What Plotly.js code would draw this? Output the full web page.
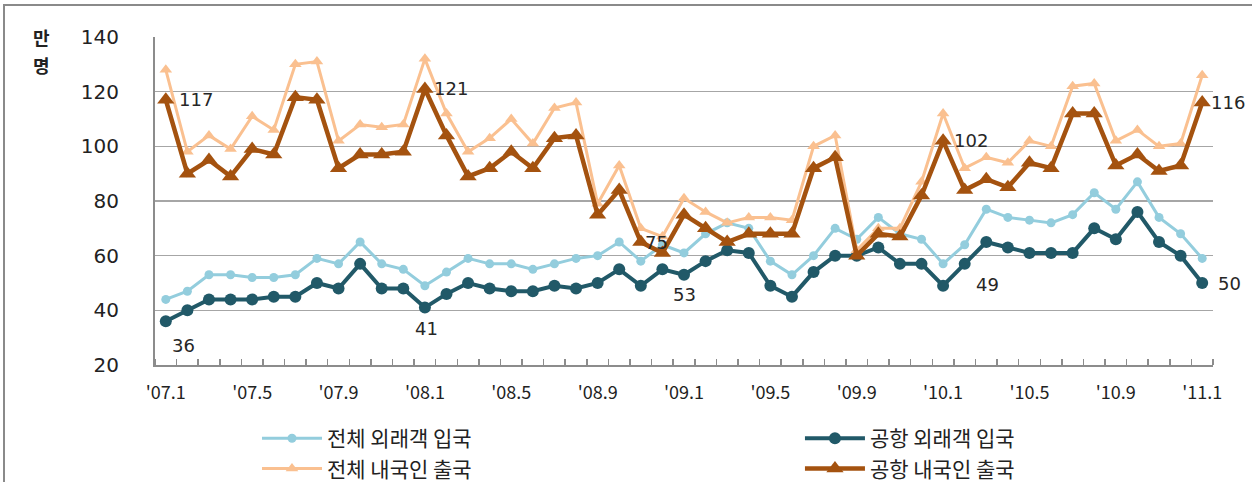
<!DOCTYPE html>
<html>
<head>
<meta charset="utf-8">
<script src="https://cdn.plot.ly/plotly-3.0.1.min.js"></script>
<style>
  html, body { margin: 0; padding: 0; background: #fff; }
  #wrap { position: relative; width: 1252px; height: 482px; }
  #chart { width: 1252px; height: 482px; }
  #frame { position: absolute; left: 3px; top: 4px; width: 1252px; height: 482px; border: 2px solid #8a8a8a; box-sizing: border-box; pointer-events: none; }
</style>
</head>
<body>
<div id="wrap"><div id="chart"></div><div id="frame"></div></div>
<script>
// month index 0 = '07.1 ... 48 = '11.1
const months = Array.from({length: 49}, (_, i) => i);
const tickPositions = [0, 4, 8, 12, 16, 20, 24, 28, 32, 36, 40, 44, 48];
const tickLabels = ["'07.1", "'07.5", "'07.9", "'08.1", "'08.5", "'08.9", "'09.1", "'09.5", "'09.9", "'10.1", "'10.5", "'10.9", "'11.1"];

const seriesNames = ["전체 외래객 입국", "공항 외래객 입국", "전체 내국인 출국", "공항 내국인 출국"];

// 전체 외래객 입국 (만 명)
const totalInbound = [44, 47, 53, 53, 52, 52, 53, 59, 57, 65, 57, 55,
                      49, 54, 59, 57, 57, 55, 57, 59, 60, 65, 58, 64,
                      61, 68, 72, 70, 58, 53, 60, 70, 66, 74, 68, 66,
                      57, 64, 77, 74, 73, 72, 75, 83, 77, 87, 74, 68,
                      59];
// 공항 외래객 입국
const airportInbound = [36, 40, 44, 44, 44, 45, 45, 50, 48, 57, 48, 48,
                        41, 46, 50, 48, 47, 47, 49, 48, 50, 55, 49, 55,
                        53, 58, 62, 61, 49, 45, 54, 60, 60, 63, 57, 57,
                        49, 57, 65, 63, 61, 61, 61, 70, 66, 76, 65, 60,
                        50];
// 전체 내국인 출국
const totalOutbound = [128, 98, 104, 99, 111, 106, 130, 131, 102, 108, 107, 108,
                       132, 112, 98, 103, 110, 101, 114, 116, 79, 93, 70, 67,
                       81, 76, 72, 74, 74, 73, 100, 104, 62, 70, 70, 87,
                       112, 92, 96, 94, 102, 100, 122, 123, 102, 106, 100, 101,
                       126];
// 공항 내국인 출국
const airportOutbound = [117, 90, 95, 89, 99, 97, 118, 117, 92, 97, 97, 98,
                         121, 104, 89, 92, 98, 92, 103, 104, 75, 84, 65, 61,
                         75, 70, 65, 68, 68, 68, 92, 96, 60, 68, 67, 82,
                         102, 84, 88, 85, 94, 92, 112, 112, 93, 97, 91, 93,
                         116];

// data labels: which points are labelled
const outboundLabelIdx = [0, 12, 24, 36, 48];
const inboundLabelIdx = [0, 12, 24, 36, 48];
const unitLabel = ['만', '명'];

const C_LT = '#93cddd', C_DT = '#215968', C_LO = '#fac090', C_DO = '#a4520f';

const traces = [
  { x: months, y: totalInbound, name: seriesNames[0], type: 'scatter', mode: 'lines+markers',
    line: {color: C_LT, width: 3}, marker: {color: C_LT, size: 9, symbol: 'circle'}, legend: 'legend' },
  { x: months, y: airportInbound, name: seriesNames[1], type: 'scatter', mode: 'lines+markers',
    line: {color: C_DT, width: 4}, marker: {color: C_DT, size: 12, symbol: 'circle'}, legend: 'legend2' },
  { x: months, y: totalOutbound, name: seriesNames[2], type: 'scatter', mode: 'lines+markers',
    line: {color: C_LO, width: 3}, marker: {color: C_LO, size: 11, symbol: 'triangle-up'}, legend: 'legend' },
  { x: months, y: airportOutbound, name: seriesNames[3], type: 'scatter', mode: 'lines+markers',
    line: {color: C_DO, width: 4.5}, marker: {color: C_DO, size: 15, symbol: 'triangle-up'}, legend: 'legend2' }
];

// label placement styles (offsets in px)
const outStyle = [
  {xanchor: 'left', xshift: 11, yshift: 0},
  {xanchor: 'left', xshift: 7, yshift: 0},
  {xanchor: 'right', xshift: -14, yshift: -28},
  {xanchor: 'left', xshift: 9, yshift: 0},
  {xanchor: 'left', xshift: 7, yshift: 0}
];
const inStyle = [
  {xanchor: 'center', xshift: 18, yshift: -24},
  {xanchor: 'center', xshift: 2, yshift: -21},
  {xanchor: 'center', xshift: 0, yshift: -20},
  {xanchor: 'left', xshift: 31, yshift: 1},
  {xanchor: 'left', xshift: 14, yshift: 0}
];
const labelFont = {family: 'DejaVu Sans, Verdana, sans-serif', size: 18, color: '#262626'};
const annotations = [];
outboundLabelIdx.forEach((idx, k) => {
  annotations.push(Object.assign({x: idx, y: airportOutbound[idx], xref: 'x', yref: 'y',
    text: String(airportOutbound[idx]), showarrow: false, yanchor: 'middle', font: labelFont}, outStyle[k]));
});
inboundLabelIdx.forEach((idx, k) => {
  annotations.push(Object.assign({x: idx, y: airportInbound[idx], xref: 'x', yref: 'y',
    text: String(airportInbound[idx]), showarrow: false, yanchor: 'middle', font: labelFont}, inStyle[k]));
});
// unit label (two stacked characters)
const unitY = [1.0, 0.916];
unitLabel.forEach((ch, k) => {
  annotations.push({xref: 'paper', yref: 'paper', x: -0.107, y: unitY[k], xanchor: 'center', yanchor: 'middle',
    text: '<b>' + ch + '</b>', showarrow: false, borderpad: 0,
    font: {family: 'Noto Sans CJK KR', size: 18, color: '#222'}});
});

const legendFont = {family: 'Noto Sans CJK KR', size: 21, color: '#222'};
const layout = {
  width: 1252, height: 482,
  margin: {l: 155, r: 39, t: 37, b: 117, autoexpand: false},
  paper_bgcolor: '#fff', plot_bgcolor: '#fff',
  showlegend: true,
  xaxis: {
    range: [-0.5, 48.5], tickmode: 'array', tickvals: tickPositions, ticktext: tickLabels,
    ticks: '', showgrid: false, zeroline: false, automargin: false,
    showline: true, linecolor: '#8c8c8c', linewidth: 2,
    ticklabelstandoff: 10,
    tickfont: {family: 'Noto Sans CJK KR, Noto Sans', size: 18, color: '#222'},
    minor: {tick0: -0.5, dtick: 1, ticks: 'inside', ticklen: 6, tickcolor: '#8c8c8c', tickwidth: 1.5, showgrid: false}
  },
  yaxis: {
    range: [20, 140], dtick: 20, tick0: 20, automargin: false,
    showgrid: true, gridcolor: '#a6a6a6', gridwidth: 1.5,
    zeroline: false, showline: true, linecolor: '#8c8c8c', linewidth: 2,
    ticks: '', ticklabelstandoff: 30,
    tickfont: {family: 'DejaVu Sans, Verdana, sans-serif', size: 20, color: '#222'}
  },
  legend: {
    x: 0.0964, y: -0.162, xanchor: 'left', yanchor: 'top', orientation: 'v',
    font: legendFont, itemwidth: 60,
    bgcolor: 'rgba(0,0,0,0)', tracegroupgap: 0
  },
  legend2: {
    x: 0.6096, y: -0.162, xanchor: 'left', yanchor: 'top', orientation: 'v',
    font: legendFont, itemwidth: 60,
    bgcolor: 'rgba(0,0,0,0)', tracegroupgap: 0
  },
  annotations: annotations
};

Plotly.newPlot('chart', traces, layout, {displayModeBar: false, staticPlot: true});
</script>
</body>
</html>
